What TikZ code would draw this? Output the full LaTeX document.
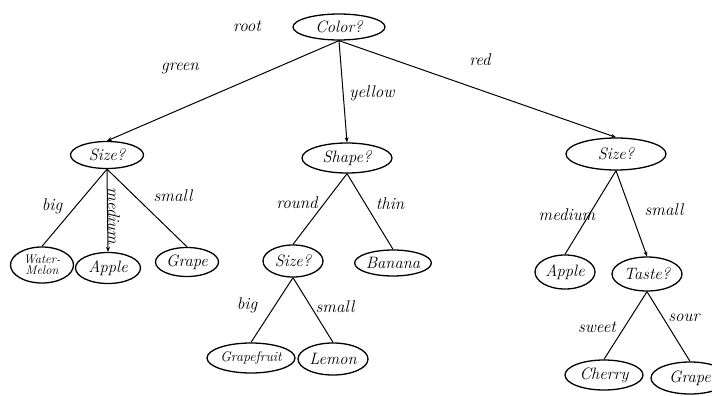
\documentclass[tikz,border=0pt]{standalone}
\usetikzlibrary{shapes.geometric,arrows.meta}
\begin{document}
\begin{tikzpicture}[x=1pt,y=-1pt,
  nd/.style 2 args={ellipse,draw,line width=1.3pt,inner sep=0pt,
    minimum width=#1pt,minimum height=#2pt,
    font=\fontsize{16.5}{17}\selectfont\itshape},
  lbl/.style={font=\fontsize{17}{18}\selectfont\itshape,inner sep=0pt},
  edge/.style={line width=1pt},
  arr/.style={line width=1pt,-{Stealth[length=5pt,width=4pt]}}]
\useasboundingbox (0,0) rectangle (712,396);
% nodes
\node[nd={92}{26}] (root) at (339,27) {Color?};
\node[nd={73}{27}] (sizeL) at (107,155) {Size?};
\node[nd={90}{30}] (shape) at (347,158) {Shape?};
\node[nd={100}{32}] (sizeR) at (616,154) {Size?};
\node[nd={63}{36},align=center,font=\fontsize{12.5}{11}\selectfont\itshape] (water) at (42,265) {Water-\\Melon};
\node[nd={65}{31}] (appleL) at (108,268) {Apple};
\node[nd={63}{29}] (grapeL) at (187,262) {Grape};
\node[nd={60}{32}] (sizeM) at (293,261) {Size?};
\node[nd={73}{26}] (banana) at (393,263) {Banana};
\node[nd={88}{30},font=\fontsize{14}{15}\selectfont\itshape] (grapefruit) at (251,358) {Grapefruit};
\node[nd={70}{32}] (lemon) at (333,359) {Lemon};
\node[nd={60}{34}] (appleR) at (565,272) {Apple};
\node[nd={70}{34}] (taste) at (647,274) {Taste?};
\node[nd={78}{30}] (cherry) at (604,375) {Cherry};
\node[nd={78}{32}] (grapeR) at (690,378) {Grape};
% edges
\draw[arr] (root.south) -- (sizeL.north);
\draw[arr] (root.south) -- (shape.north);
\draw[arr] (root.south) -- (sizeR.north);
\draw[edge] (sizeL.south) -- (water.north);
\draw[arr] (sizeL.south) -- (appleL.north);
\draw[edge] (sizeL.south) -- (grapeL.north);
\draw[edge] (shape.south) -- (sizeM.north);
\draw[edge] (shape.south) -- (banana.north);
\draw[edge] (sizeM.south) -- (grapefruit.north);
\draw[edge] (sizeM.south) -- (lemon.north);
\draw[edge] (sizeR.south) -- (appleR.north);
\draw[arr] (sizeR.south) -- (taste.north);
\draw[edge] (taste.south) -- (cherry.north);
\draw[edge] (taste.south) -- (grapeR.north);
% labels
\node[lbl] (lroot) at (247,26) {root};
\node[lbl] (lgreen) at (180,68) {green};
\node[lbl] (lyellow) at (372,93) {yellow};
\node[lbl] (lred) at (480,60) {red};
\node[lbl] (lbig1) at (52,206) {big};
\node[lbl,rotate=-90] (lmed1) at (114,216) {medium};
\node[lbl] (lsmall1) at (173,196) {small};
\node[lbl] (lround) at (297,203) {round};
\node[lbl] (lthin) at (390,204) {thin};
\node[lbl] (lbig2) at (247,305) {big};
\node[lbl] (lsmall2) at (335,307) {small};
\node[lbl] (lmed2) at (567,215) {medium};
\node[lbl] (lsmall3) at (664,210) {small};
\node[lbl] (lsweet) at (597,327) {sweet};
\node[lbl] (lsour) at (684,318) {sour};
\end{tikzpicture}
\end{document}
